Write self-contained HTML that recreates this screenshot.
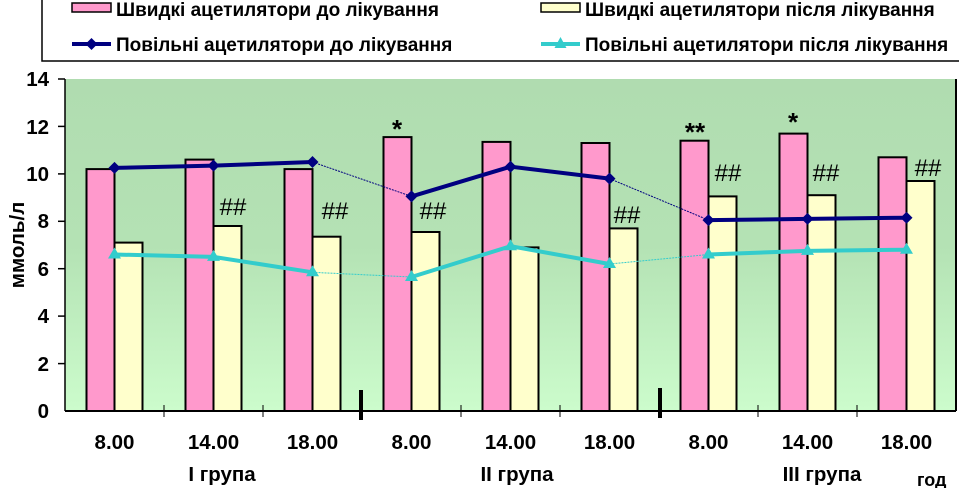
<!DOCTYPE html>
<html><head><meta charset="utf-8"><style>
html,body{margin:0;padding:0;background:#fff;width:959px;height:488px;overflow:hidden}
text{font-family:"Liberation Sans",sans-serif;font-weight:bold}
</style></head><body>
<svg width="959" height="488" viewBox="0 0 959 488" xmlns="http://www.w3.org/2000/svg">
<defs><linearGradient id="g" x1="0" y1="0" x2="0" y2="1">
<stop offset="0" stop-color="#b0dcb0"/><stop offset="0.5" stop-color="#b4e2b4"/><stop offset="1" stop-color="#ccfccc"/></linearGradient></defs>
<rect x="42" y="-2" width="930" height="63" fill="#fff" stroke="#000" stroke-width="1.5"/>
<rect x="72" y="3" width="39" height="9" fill="#ff99cc" stroke="#000" stroke-width="1.5"/>
<text x="116" y="16" font-size="19">Швидкі ацетилятори до лікування</text>
<rect x="541" y="3" width="39" height="9" fill="#ffffcc" stroke="#000" stroke-width="1.5"/>
<text x="585" y="16" font-size="19">Швидкі ацетилятори після лікування</text>
<line x1="72" y1="44" x2="111" y2="44" stroke="#000080" stroke-width="4"/>
<path d="M91.5 38 L97.5 44 L91.5 50 L85.5 44Z" fill="#000080"/>
<text x="116" y="51" font-size="19">Повільні ацетилятори до лікування</text>
<line x1="541" y1="44" x2="580" y2="44" stroke="#33cccc" stroke-width="4"/>
<path d="M560.5 37 L566.5 48 L554.5 48Z" fill="#33cccc"/>
<text x="585" y="51" font-size="19">Повільні ацетилятори після лікування</text>
<rect x="65" y="79" width="891" height="332" fill="url(#g)"/>
<line x1="956" y1="79" x2="956" y2="411" stroke="#000" stroke-width="2"/>
<line x1="65" y1="79" x2="65" y2="411" stroke="#000" stroke-width="1.5"/>
<g stroke="#000" stroke-width="1.5">
<line x1="58" y1="79" x2="65" y2="79"/><line x1="58" y1="126.4" x2="65" y2="126.4"/><line x1="58" y1="173.9" x2="65" y2="173.9"/><line x1="58" y1="221.3" x2="65" y2="221.3"/><line x1="58" y1="268.7" x2="65" y2="268.7"/><line x1="58" y1="316.1" x2="65" y2="316.1"/><line x1="58" y1="363.6" x2="65" y2="363.6"/>
</g>
<g font-size="20.5" text-anchor="end">
<text x="49" y="86">14</text><text x="49" y="134">12</text><text x="49" y="181">10</text><text x="49" y="228">8</text><text x="49" y="276">6</text><text x="49" y="323">4</text><text x="49" y="371">2</text><text x="49" y="418">0</text>
</g>
<text transform="translate(24,245) rotate(-90)" font-size="20.5" text-anchor="middle">ммоль/л</text>
<g stroke="#000" stroke-width="2">
<rect x="86.5" y="169.1" width="28" height="241.9" fill="#ff99cc"/><rect x="114.5" y="242.6" width="28" height="168.4" fill="#ffffcc"/>
<rect x="185.5" y="159.6" width="28" height="251.4" fill="#ff99cc"/><rect x="213.5" y="226" width="28" height="185" fill="#ffffcc"/>
<rect x="284.5" y="169.1" width="28" height="241.9" fill="#ff99cc"/><rect x="312.5" y="236.7" width="28" height="174.3" fill="#ffffcc"/>
<rect x="383.5" y="137.1" width="28" height="273.9" fill="#ff99cc"/><rect x="411.5" y="232" width="28" height="179" fill="#ffffcc"/>
<rect x="482.5" y="141.9" width="28" height="269.1" fill="#ff99cc"/><rect x="510.5" y="247.4" width="28" height="163.6" fill="#ffffcc"/>
<rect x="581.5" y="143" width="28" height="268" fill="#ff99cc"/><rect x="609.5" y="228.4" width="28" height="182.6" fill="#ffffcc"/>
<rect x="680.5" y="140.7" width="28" height="270.3" fill="#ff99cc"/><rect x="708.5" y="196.4" width="28" height="214.6" fill="#ffffcc"/>
<rect x="779.5" y="133.6" width="28" height="277.4" fill="#ff99cc"/><rect x="807.5" y="195.2" width="28" height="215.8" fill="#ffffcc"/>
<rect x="878.5" y="157.3" width="28" height="253.7" fill="#ff99cc"/><rect x="906.5" y="181" width="28" height="230" fill="#ffffcc"/>
</g>
<line x1="65" y1="411" x2="956" y2="411" stroke="#000" stroke-width="2"/>
<g stroke="#000" stroke-width="1"><line x1="164" y1="405" x2="164" y2="417"/><line x1="263" y1="405" x2="263" y2="417"/><line x1="461" y1="405" x2="461" y2="417"/><line x1="560" y1="405" x2="560" y2="417"/><line x1="758" y1="405" x2="758" y2="417"/><line x1="857" y1="405" x2="857" y2="417"/></g>
<g stroke="#000" stroke-width="4"><line x1="361" y1="390" x2="361" y2="420"/><line x1="660" y1="388" x2="660" y2="418"/></g>
<g fill="none">
<polyline points="114.5,167.9 213.5,165.6 312.5,162" stroke="#000080" stroke-width="4"/>
<polyline points="411.5,196.4 510.5,166.7 609.5,178.6" stroke="#000080" stroke-width="4"/>
<polyline points="708.5,220.1 807.5,218.9 906.5,217.7" stroke="#000080" stroke-width="4"/>
<polyline points="312.5,162 411.5,196.4" stroke="#000080" stroke-width="1" stroke-dasharray="2,1"/>
<polyline points="609.5,178.6 708.5,220.1" stroke="#000080" stroke-width="1" stroke-dasharray="2,1"/>
<polyline points="114.5,254.5 213.5,256.9 312.5,272.3" stroke="#33cccc" stroke-width="4"/>
<polyline points="411.5,277 510.5,246.2 609.5,264" stroke="#33cccc" stroke-width="4"/>
<polyline points="708.5,254.5 807.5,250.9 906.5,249.7" stroke="#33cccc" stroke-width="4"/>
<polyline points="312.5,272.3 411.5,277" stroke="#33cccc" stroke-width="1" stroke-dasharray="2,1"/>
<polyline points="609.5,264 708.5,254.5" stroke="#33cccc" stroke-width="1" stroke-dasharray="2,1"/>
</g>
<g fill="#000080">
<path d="M114.5 161.9l6 6-6 6-6-6z"/><path d="M213.5 159.6l6 6-6 6-6-6z"/><path d="M312.5 156l6 6-6 6-6-6z"/>
<path d="M411.5 190.4l6 6-6 6-6-6z"/><path d="M510.5 160.7l6 6-6 6-6-6z"/><path d="M609.5 172.6l6 6-6 6-6-6z"/>
<path d="M708.5 214.1l6 6-6 6-6-6z"/><path d="M807.5 212.9l6 6-6 6-6-6z"/><path d="M906.5 211.7l6 6-6 6-6-6z"/>
</g>
<g fill="#33cccc">
<path d="M114.5 247.5l6.5 11h-13z"/><path d="M213.5 249.9l6.5 11h-13z"/><path d="M312.5 265.3l6.5 11h-13z"/>
<path d="M411.5 270l6.5 11h-13z"/><path d="M510.5 239.2l6.5 11h-13z"/><path d="M609.5 257l6.5 11h-13z"/>
<path d="M708.5 247.5l6.5 11h-13z"/><path d="M807.5 243.9l6.5 11h-13z"/><path d="M906.5 242.7l6.5 11h-13z"/>
</g>
<g text-anchor="middle" font-size="26">
<text x="397" y="138">*</text>
<text x="695" y="141">**</text>
<text x="793" y="131">*</text>
</g>
<g font-size="24" text-anchor="middle" style="font-weight:normal">
<text x="233" y="215" style="font-weight:normal">##</text>
<text x="335" y="219" style="font-weight:normal">##</text>
<text x="433" y="219" style="font-weight:normal">##</text>
<text x="627" y="223" style="font-weight:normal">##</text>
<text x="728" y="181" style="font-weight:normal">##</text>
<text x="826" y="181" style="font-weight:normal">##</text>
<text x="928" y="176" style="font-weight:normal">##</text>
</g>
<g font-size="20.5" text-anchor="middle">
<text x="114.5" y="449">8.00</text><text x="213.5" y="449">14.00</text><text x="312.5" y="449">18.00</text>
<text x="411.5" y="449">8.00</text><text x="510.5" y="449">14.00</text><text x="609.5" y="449">18.00</text>
<text x="708.5" y="449">8.00</text><text x="807.5" y="449">14.00</text><text x="906.5" y="449">18.00</text>
<text x="222" y="481">I група</text><text x="517" y="481">II група</text><text x="822" y="481">III група</text>
</g>
<text x="917" y="486" font-size="18">год</text>
</svg>
</body></html>
